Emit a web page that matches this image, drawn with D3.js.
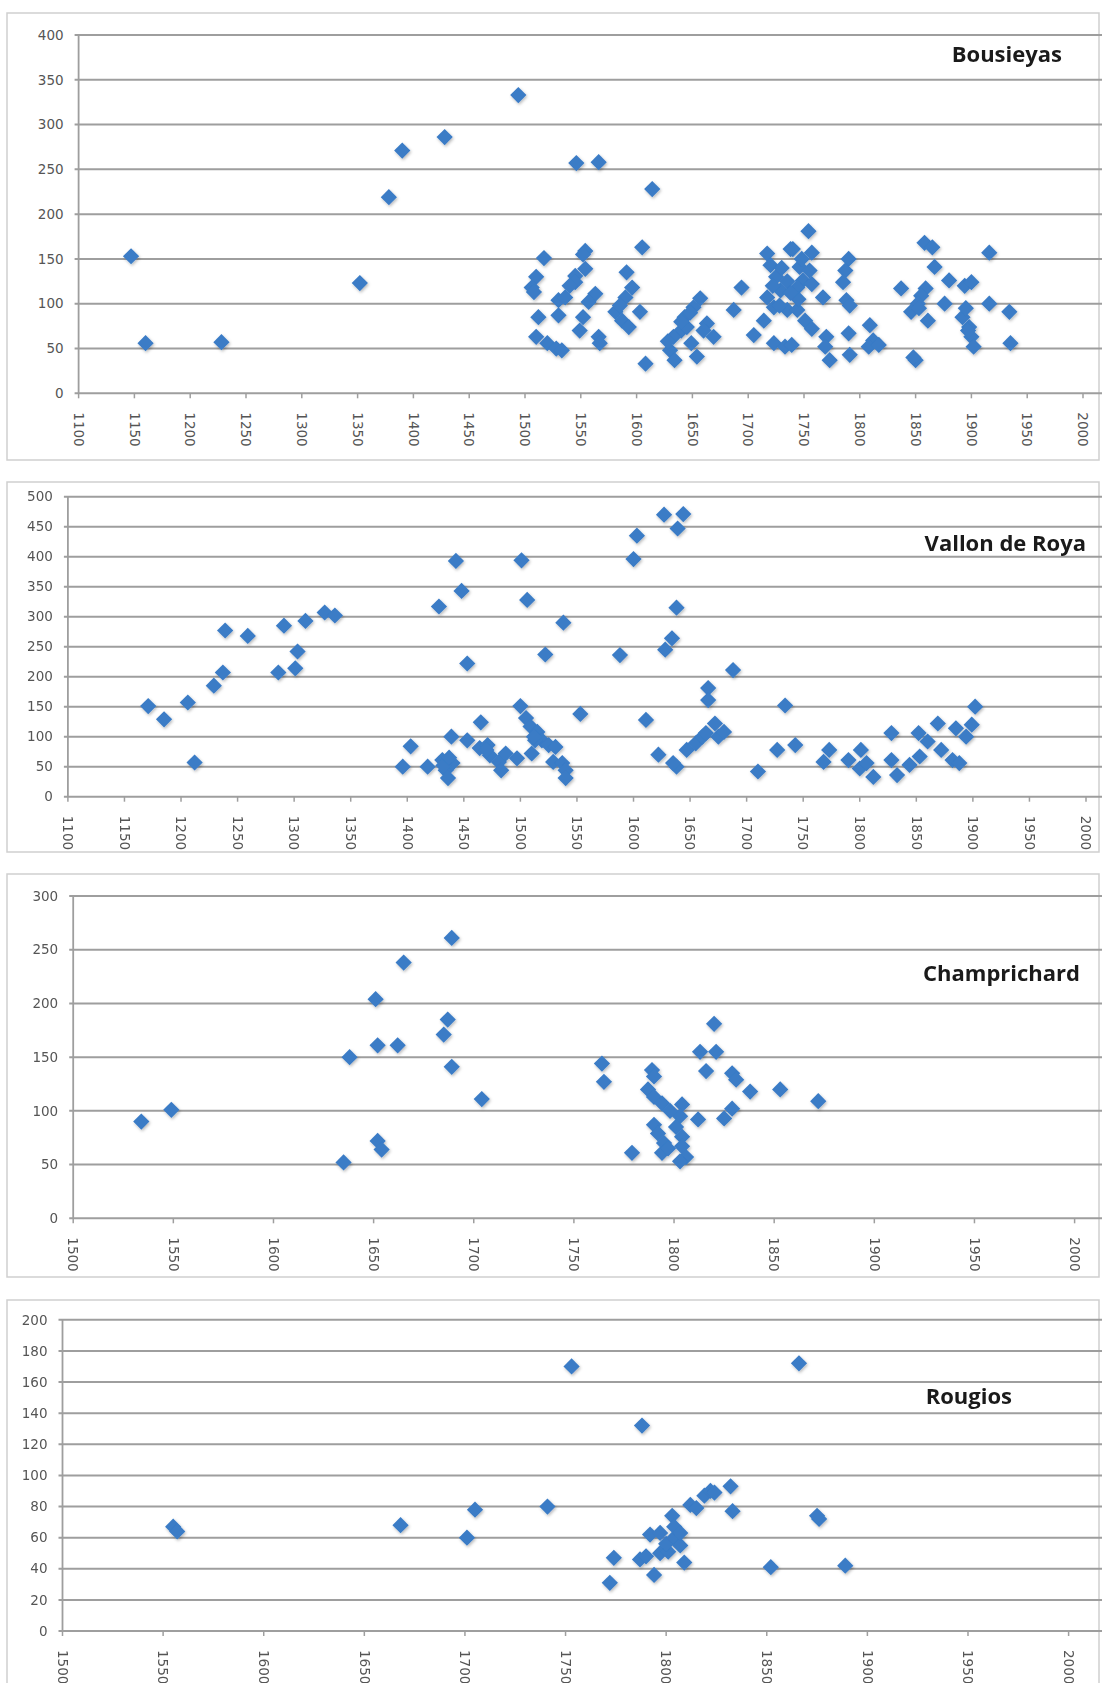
<!DOCTYPE html>
<html><head><meta charset="utf-8">
<script src="https://cdn.jsdelivr.net/npm/d3@7"></script>
<style>body{margin:0;background:#fff}svg{display:block}</style>
</head><body>
<svg id="chart" width="1107" height="1683"></svg>
<script>
// ---------- DATA ----------
const bousieyasYears = [1147,1160,1228,1352,1378,1390,1428,1494,1546,1566,1614,1605,1517,1554,1552,1554,1545,1545,1510,1506,1508,1512,1510,1520,1528,1533,1530,1536,1530,1591,1596,1590,1603,1581,1587,1593,1563,1557,1552,1549,1566,1567,1608,1657,1651,1643,1640,1633,1630,1634,1649,1654,1663,1669,1645,1694,1687,1705,1717,1720,1738,1717,1723,1714,1729,1735,1723,1733,1754,1740,1757,1746,1755,1749,1757,1744,1767,1790,1787,1785,1788,1791,1744,1751,1757,1770,1769,1773,1790,1791,1809,1812,1808,1817,1739,1837,1850,1858,1865,1867,1859,1855,1852,1846,1861,1876,1880,1894,1900,1892,1898,1900,1902,1916,1916,1934,1935,1725,1730,1735,1745,1738,1728,1748,1722,1640,1648,1660,1628,1540,1585,1853,1895,1897,1848];
const bousieyasValues = [153,56,57,123,219,271,286,333,257,258,228,163,151,159,155,139,131,124,130,118,113,85,63,56,50,48,104,107,87,135,118,107,91,91,81,74,111,102,85,70,63,56,33,106,96,85,70,63,48,37,56,41,78,63,74,118,93,65,156,143,161,107,96,81,115,93,56,52,181,161,157,141,137,126,122,118,107,150,137,124,104,98,93,81,72,63,52,37,67,43,76,59,52,54,54,117,37,168,163,141,117,109,100,91,81,100,126,120,124,85,74,63,52,157,100,91,56,130,140,125,105,112,98,150,120,80,90,70,58,120,98,95,95,70,40];

const royaYears = [1171,1185,1206,1212,1229,1237,1239,1259,1286,1291,1301,1303,1310,1327,1336,1396,1403,1418,1428,1443,1448,1453,1465,1501,1506,1522,1538,1500,1553,1431,1434,1436,1440,1439,1453,1464,1471,1473,1481,1483,1487,1497,1505,1509,1515,1519,1513,1510,1525,1531,1529,1537,1540,1540,1588,1600,1603,1611,1622,1627,1639,1644,1638,1634,1628,1638,1647,1655,1661,1666,1666,1672,1675,1680,1664,1688,1710,1727,1734,1743,1768,1773,1790,1801,1800,1806,1812,1828,1828,1833,1844,1852,1853,1860,1869,1872,1882,1888,1885,1894,1899,1902,1432,1437,1470,1512,1635];
const royaValues = [151,129,157,57,185,207,277,268,207,285,214,242,293,307,302,50,84,50,317,393,343,222,124,394,328,237,290,151,138,61,44,31,56,100,94,81,86,69,58,44,72,64,131,117,108,94,94,72,86,83,58,56,44,31,236,396,435,128,70,470,447,471,315,264,245,50,78,89,100,181,161,122,100,108,106,211,42,78,152,86,58,78,61,78,47,56,33,106,61,36,53,106,67,92,122,78,61,56,114,100,120,150,52,65,78,100,56];

const champYears = [1534,1549,1635,1638,1651,1652,1652,1654,1662,1665,1685,1687,1689,1689,1704,1764,1765,1779,1789,1790,1787,1790,1794,1790,1792,1794,1795,1804,1803,1801,1804,1804,1806,1803,1812,1820,1813,1821,1816,1829,1831,1829,1825,1838,1853,1872,1798,1797];
const champValues = [90,101,52,150,204,161,72,64,161,238,171,185,261,141,111,144,127,61,138,132,120,113,107,87,79,61,70,106,95,85,76,67,57,53,92,181,155,155,137,135,129,102,93,118,120,109,100,65];

const rougiosYears = [1555,1557,1668,1701,1705,1741,1753,1866,1788,1774,1772,1794,1787,1790,1797,1801,1809,1792,1797,1800,1804,1807,1803,1804,1807,1812,1815,1819,1822,1824,1832,1833,1852,1876,1875,1889];
const rougiosValues = [67,64,68,60,78,80,170,172,132,47,31,36,46,48,50,51,44,62,63,56,60,55,74,67,63,81,79,87,90,89,93,77,41,72,74,42];

const bousieyasYTicks = [0,50,100,150,200,250,300,350,400];
const royaYTicks = [0,50,100,150,200,250,300,350,400,450,500];
const champYTicks = [0,50,100,150,200,250,300];
const rougiosYTicks = [0,20,40,60,80,100,120,140,160,180,200];
const xTicksLong = [1100,1150,1200,1250,1300,1350,1400,1450,1500,1550,1600,1650,1700,1750,1800,1850,1900,1950,2000];
const xTicksShort = [1500,1550,1600,1650,1700,1750,1800,1850,1900,1950,2000];
const siteNames = ["Bousieyas","Vallon de Roya","Champrichard","Rougios"];

// ---------- LAYOUT ----------
const panels = [
  {name:siteNames[0], years:bousieyasYears, values:bousieyasValues, yTicks:bousieyasYTicks, xTicks:xTicksLong,
   xd:[1100,2000], xr:[78.6,1083], yd:[0,400], yr:[393.3,35], box:[7,13,1099,460], title:[1062,62]},
  {name:siteNames[1], years:royaYears, values:royaValues, yTicks:royaYTicks, xTicks:xTicksLong,
   xd:[1100,2000], xr:[67.9,1086], yd:[0,500], yr:[796.7,496.7], box:[7,482,1099,852], title:[1086,551]},
  {name:siteNames[2], years:champYears, values:champValues, yTicks:champYTicks, xTicks:xTicksShort,
   xd:[1500,2000], xr:[73.2,1074.6], yd:[0,300], yr:[1218.3,896], box:[7,874,1099,1277], title:[1080,981]},
  {name:siteNames[3], years:rougiosYears, values:rougiosValues, yTicks:rougiosYTicks, xTicks:xTicksShort,
   xd:[1500,2000], xr:[62.5,1068.6], yd:[0,200], yr:[1631,1319.8], box:[7,1300,1099,1720], title:[1012,1404]}
];
const plotRight = 1102;

const svg = d3.select("#chart");
const defs = svg.append("defs");
const f = defs.append("filter").attr("id","sh").attr("x","-60%").attr("y","-60%").attr("width","220%").attr("height","220%");
f.append("feGaussianBlur").attr("in","SourceGraphic").attr("stdDeviation",0.6).attr("result","b");
f.append("feDropShadow").attr("in","b").attr("dx",1).attr("dy",1.5).attr("stdDeviation",1.5).attr("flood-color","#000").attr("flood-opacity",0.28);

const diamond = d3.symbol().type(d3.symbolSquare).size(132);

panels.forEach(p => {
  const g = svg.append("g");
  const x = d3.scaleLinear().domain(p.xd).range(p.xr);
  const y = d3.scaleLinear().domain(p.yd).range(p.yr);
  const left = p.xr[0];
  const bottom = p.yr[0];

  g.append("rect").attr("x",p.box[0]).attr("y",p.box[1])
    .attr("width",p.box[2]-p.box[0]).attr("height",p.box[3]-p.box[1])
    .attr("fill","#fff").attr("stroke","#cfcfcf").attr("stroke-width",1.5);

  // gridlines
  g.append("g").selectAll("line").data(p.yTicks).join("line")
    .attr("x1",left-4).attr("x2",plotRight)
    .attr("y1",d=>y(d)).attr("y2",d=>y(d))
    .attr("stroke","#9e9e9e").attr("stroke-width",2);

  // y axis line
  g.append("line").attr("x1",left).attr("x2",left)
    .attr("y1",y(p.yd[1])).attr("y2",bottom)
    .attr("stroke","#9e9e9e").attr("stroke-width",1.8);

  // y labels
  g.append("g").selectAll("text").data(p.yTicks).join("text")
    .attr("x",left-15).attr("y",d=>y(d)).attr("dy","0.35em")
    .attr("text-anchor","end")
    .attr("font-family","DejaVu Sans, sans-serif").attr("font-size",13.5)
    .attr("fill","#555").text(d=>d);

  // x ticks
  g.append("g").selectAll("line").data(p.xTicks).join("line")
    .attr("x1",d=>x(d)).attr("x2",d=>x(d))
    .attr("y1",bottom).attr("y2",bottom+5)
    .attr("stroke","#9e9e9e").attr("stroke-width",1.5);

  // x labels rotated
  g.append("g").selectAll("text").data(p.xTicks).join("text")
    .attr("transform",d=>`translate(${x(d)},${bottom+19}) rotate(90)`)
    .attr("dy","0.35em").attr("text-anchor","start")
    .attr("font-family","DejaVu Sans, sans-serif").attr("font-size",13.5)
    .attr("fill","#555").text(d=>d);

  // points
  const pts = p.years.map((yr,i)=>({yr, v:p.values[i]}));
  g.append("g").attr("filter","url(#sh)").selectAll("path").data(pts).join("path")
    .attr("d",diamond)
    .attr("transform",d=>`translate(${x(d.yr)},${y(d.v)}) rotate(45)`)
    .attr("fill","#3a7bc6");

  // title
  g.append("text").attr("x",p.title[0]).attr("y",p.title[1])
    .attr("text-anchor","end")
    .attr("font-family","Open Sans, sans-serif").attr("font-weight",700)
    .attr("font-size",22).attr("fill","#1a1a1a").text(p.name);
});
</script>
</body></html>
